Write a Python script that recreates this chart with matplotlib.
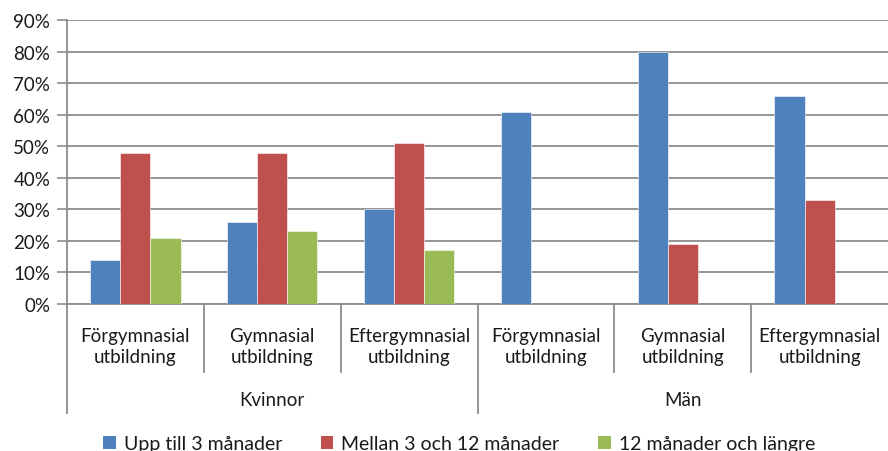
import matplotlib
matplotlib.use("Agg")
import matplotlib.pyplot as plt
import numpy as np
from matplotlib.patches import Patch

categories = ["Förgymnasial\nutbildning", "Gymnasial\nutbildning", "Eftergymnasial\nutbildning",
              "Förgymnasial\nutbildning", "Gymnasial\nutbildning", "Eftergymnasial\nutbildning"]
groups = ["Kvinnor", "Män"]
series_names = ["Upp till 3 månader", "Mellan 3 och 12 månader", "12 månader och längre"]
upp_till_3 = [14, 26, 30, 61, 80, 66]
mellan_3_12 = [48, 48, 51, 0, 19, 33]
tolv_plus = [21, 23, 17, 0, 0, 0]
colors = ["#4F81BD", "#C0504D", "#9BBB59"]

plt.rcParams['font.family'] = ['Lato', 'DejaVu Sans']
fig = plt.figure(figsize=(8.88, 4.52), dpi=100)
ax = fig.add_axes([67/888, 1-305/452, 821/888, 284/452])

n = len(categories)
x = np.arange(n)
w = 0.22
data = [upp_till_3, mellan_3_12, tolv_plus]
for i, (vals, c) in enumerate(zip(data, colors)):
    ax.bar(x + (i-1)*w, np.array(vals)/100, width=w, color=c, zorder=3,
           edgecolor='white', linewidth=0.4)

txt = '#1a1a1a'
ax.set_xlim(-0.5, n-0.5)
ax.set_ylim(0, 0.9)
ax.set_yticks(np.arange(0, 0.91, 0.1))
ax.set_yticklabels([f"{int(round(v*100))}%" for v in np.arange(0, 0.91, 0.1)], fontsize=13.5, color=txt)
ax.yaxis.grid(True, color='#8c8c8c', linewidth=1.3, zorder=0)
ax.tick_params(axis='y', length=7, color='#8c8c8c', width=1.2, pad=5)
ax.set_xticks([])
for s in ['top', 'right']:
    ax.spines[s].set_visible(False)
for s in ['left', 'bottom']:
    ax.spines[s].set_color('#8c8c8c')
    ax.spines[s].set_linewidth(1.3)

trans = ax.get_xaxis_transform()
for i, lab in enumerate(categories):
    ax.text(x[i], -0.148, lab, transform=trans, ha='center', va='center',
            fontsize=13.5, color=txt, linespacing=1.35)
for b in np.arange(-0.5, n - 1, 1.0):
    outer = (b == -0.5) or (b == 2.5)
    bottom = -0.384 if outer else -0.24
    ax.plot([b, b], [0, bottom], transform=trans, color='#8c8c8c', lw=1.3, clip_on=False)
ax.text(1, -0.335, groups[0], transform=trans, ha='center', va='center', fontsize=13.5, color=txt)
ax.text(4, -0.335, groups[1], transform=trans, ha='center', va='center', fontsize=13.5, color=txt)

handles = [Patch(facecolor=c, edgecolor='none') for c in colors]
fig.legend(handles, series_names, loc='center', bbox_to_anchor=(0.517, 1-445/452), ncol=3,
           frameon=False, fontsize=14, handlelength=0.65, handleheight=0.65,
           handletextpad=0.4, columnspacing=2.0, labelcolor=txt)

fig.savefig("out.png", dpi=100)
